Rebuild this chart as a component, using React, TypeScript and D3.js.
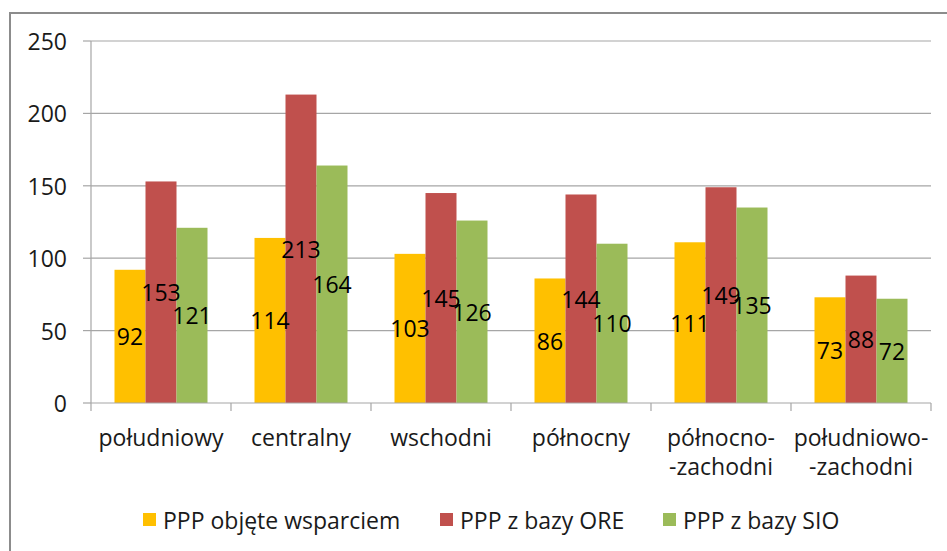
import React from "react";
import * as d3 from "d3";

const categories = [
  ["południowy"],
  ["centralny"],
  ["wschodni"],
  ["północny"],
  ["północno-", "-zachodni"],
  ["południowo-", "-zachodni"],
];
const seriesNames = ["PPP objęte wsparciem", "PPP z bazy ORE", "PPP z bazy SIO"];
const seriesColors = ["#FFC000", "#C0504D", "#9BBB59"];
const objete = [92, 114, 103, 86, 111, 73];
const ore = [153, 213, 145, 144, 149, 88];
const sio = [121, 164, 126, 110, 135, 72];
const yTicks = [0, 50, 100, 150, 200, 250];

const W = 947;
const H = 551;
const FONT = "'Open Sans', Lato, sans-serif";
const FS = 23;

export default function App() {
  const values = [objete, ore, sio];
  const catKeys = categories.map((c) => c.join(""));
  const x = d3.scaleBand<string>().domain(catKeys).range([91, 931]).padding(0);
  const inner = d3
    .scaleBand<number>()
    .domain([0, 1, 2])
    .range([23.5, x.bandwidth() - 23.5])
    .padding(0);
  const y = d3.scaleLinear().domain([0, 250]).range([403, 41]);

  const boundaries = catKeys.map((k) => x(k)!).concat([x.range()[1]]);
  const legendX = [143, 440, 663];

  return (
    <svg
      width={W}
      height={H}
      style={{ position: "absolute", left: 0, top: 0, background: "#fff" }}
      fontFamily={FONT}
    >
      <rect x={10} y={13} width={W + 20} height={H + 20} fill="#fff" stroke="#8c8c8c" strokeWidth={2} />
      {yTicks.map((t) => (
        <g key={t}>
          {t > 0 && (
            <line x1={91} x2={931} y1={y(t)} y2={y(t)} stroke="#a6a6a6" strokeWidth={1.2} />
          )}
          <line x1={83} x2={91} y1={y(t)} y2={y(t)} stroke="#a6a6a6" strokeWidth={1.2} />
          <text x={67} y={y(t)} textAnchor="end" dominantBaseline="central" fontSize={FS} fill="#1a1a1a">
            {t}
          </text>
        </g>
      ))}
      <line x1={91} x2={91} y1={y(250)} y2={y(0)} stroke="#a6a6a6" strokeWidth={1.2} />
      {catKeys.map((k, ci) =>
        values.map((vals, si) => (
          <rect
            key={k + si}
            x={x(k)! + inner(si)!}
            y={y(vals[ci])}
            width={inner.bandwidth()}
            height={y(0) - y(vals[ci])}
            fill={seriesColors[si]}
          />
        ))
      )}
      <line x1={91} x2={931} y1={y(0)} y2={y(0)} stroke="#a6a6a6" strokeWidth={1.2} />
      {boundaries.map((b, i) => (
        <line key={i} x1={b} x2={b} y1={y(0)} y2={y(0) + 8} stroke="#a6a6a6" strokeWidth={1.2} />
      ))}
      {catKeys.map((k, ci) =>
        values.map((vals, si) => (
          <text
            key={"l" + k + si}
            x={x(k)! + inner(si)! + inner.bandwidth() / 2}
            y={(y(vals[ci]) + y(0)) / 2}
            textAnchor="middle"
            dominantBaseline="central"
            fontSize={FS}
            fill="#000"
          >
            {vals[ci]}
          </text>
        ))
      )}
      {categories.map((lines, ci) =>
        lines.map((ln, li) => (
          <text
            key={"c" + ci + li}
            x={x(catKeys[ci])! + x.bandwidth() / 2}
            y={437 + li * 29}
            textAnchor="middle"
            dominantBaseline="central"
            fontSize={FS}
            fill="#1a1a1a"
          >
            {ln}
          </text>
        ))
      )}
      {seriesNames.map((s, i) => (
        <g key={s}>
          <rect x={legendX[i]} y={513} width={13} height={13} fill={seriesColors[i]} />
          <text x={legendX[i] + 20} y={520} dominantBaseline="central" fontSize={FS} fill="#1a1a1a">
            {s}
          </text>
        </g>
      ))}
    </svg>
  );
}
